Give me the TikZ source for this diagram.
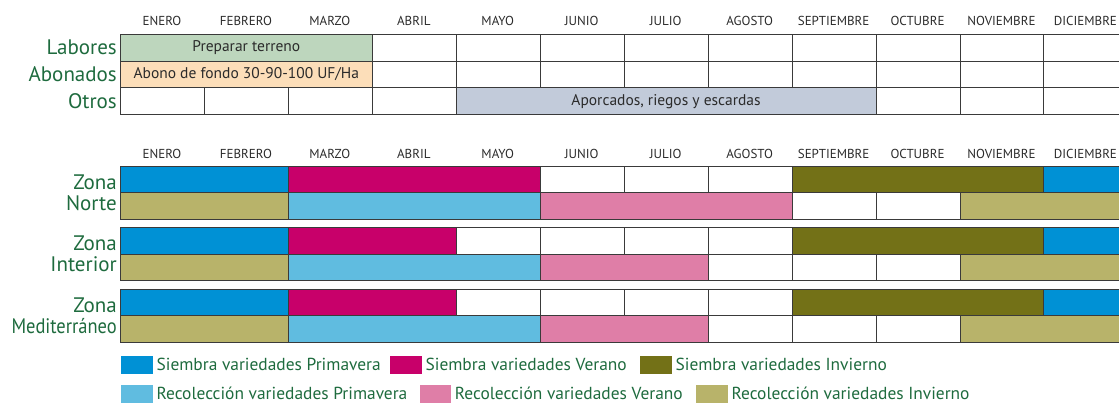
\documentclass[tikz,border=0pt]{standalone}
\usepackage{fontspec}
\setmainfont{PT Sans}
\newfontfamily\narrowfont{PT Sans}[FakeStretch=0.88]
\definecolor{txtgreen}{HTML}{1E6B3E}
\definecolor{mtxt}{HTML}{2B2B2B}
\definecolor{sprim}{HTML}{0091D5}
\definecolor{sver}{HTML}{C8006A}
\definecolor{sinv}{HTML}{737117}
\definecolor{rprim}{HTML}{60BCE0}
\definecolor{rver}{HTML}{DF7EA7}
\definecolor{rinv}{HTML}{B8B36A}
\definecolor{labc}{HTML}{BDD6BD}
\definecolor{aboc}{HTML}{FCDEB9}
\definecolor{otrc}{HTML}{C2CBDA}
\definecolor{gridc}{HTML}{3A3A3A}
\newcommand\cw{83.95}
\newcommand\gcell[7]{%
  \node[cellbox, fill=#6, minimum width={(#3-#2+1)*\cw*1pt}, minimum height=#5*1pt]
    (#1) at ({120+\cw*#2},#4) {#7};}
\tikzset{
  cellbox/.style={draw=gridc, line width=0.8pt, inner sep=0pt, anchor=north west,
    text=mtxt, font=\fontsize{15.5}{15.5}\selectfont},
  month/.style={text=mtxt, inner sep=0pt, font=\fontsize{13}{13}\selectfont},
  rowlab/.style={text=txtgreen, inner sep=0pt, anchor=east, align=right,
    font=\fontsize{21}{21}\selectfont},
  legsq/.style={inner sep=0pt, anchor=north west, minimum width=31.5pt, minimum height=18pt},
  legtxt/.style={text=txtgreen, inner sep=0pt, anchor=west, font=\fontsize{17.4}{17.4}\selectfont},
}
\begin{document}
\begin{tikzpicture}[x=1pt,y=-1pt]
\useasboundingbox (0,0) rectangle (1119,407);
\clip (0,0) rectangle (1119,407);
% month headers
\foreach \m [count=\i from 0] in {ENERO,FEBRERO,MARZO,ABRIL,MAYO,JUNIO,JULIO,AGOSTO,SEPTIEMBRE,OCTUBRE,NOVIEMBRE,DICIEMBRE}{
  \node[month] (ma\i) at ({120+\cw*(\i+0.5)},21) {\m};
  \node[month] (mb\i) at ({120+\cw*(\i+0.5)},154) {\m};
}
% top table
\gcell{lab}{0}{2}{34}{26.7}{labc}{Preparar terreno}
\foreach \c in {3,...,11}{\gcell{lab-\c}{\c}{\c}{34}{26.7}{white}{}}
\gcell{abo}{0}{2}{60.7}{26.7}{aboc}{Abono de fondo 30-90-100 UF/Ha}
\foreach \c in {3,...,11}{\gcell{abo-\c}{\c}{\c}{60.7}{26.7}{white}{}}
\foreach \c in {0,...,3}{\gcell{otr-\c}{\c}{\c}{87.4}{26.7}{white}{}}
\gcell{otr}{4}{8}{87.4}{26.7}{otrc}{Aporcados, riegos y escardas}
\foreach \c in {9,10,11}{\gcell{otr-\c}{\c}{\c}{87.4}{26.7}{white}{}}
\node[rowlab] (lLab) at (117,47.5) {Labores};
\node[rowlab] (lAbo) at (117,74.2) {Abonados};
\node[rowlab] (lOtr) at (117,100.9) {Otros};
% bottom table
\foreach \a/\b/\f in {0/1/sprim,2/4/sver,5/5/white,6/6/white,7/7/white,8/10/sinv,11/11/sprim}{
  \gcell{n1-\a}{\a}{\b}{165.7}{26.5}{\f}{}}
\foreach \a/\b/\f in {0/1/rinv,2/4/rprim,5/7/rver,8/8/white,9/9/white,10/11/rinv}{
  \gcell{n2-\a}{\a}{\b}{192.2}{26.5}{\f}{}}
\foreach \z/\t in {i/227.3,m/288.7}{
  \foreach \a/\b/\f in {0/1/sprim,2/3/sver,4/4/white,5/5/white,6/6/white,7/7/white,8/10/sinv,11/11/sprim}{
    \gcell{\z1-\a}{\a}{\b}{\t}{26.5}{\f}{}}
  \foreach \a/\b/\f in {0/1/rinv,2/4/rprim,5/6/rver,7/7/white,8/8/white,9/9/white,10/11/rinv}{
    \gcell{\z2-\a}{\a}{\b}{\t+26.5}{26.5}{\f}{}}
}
\node[rowlab] (zN) at (117,192.5) {Zona\\Norte};
\node[rowlab] (zI) at (117,254) {Zona\\Interior};
\node[rowlab] (zM) at (117,315.3) {Zona\\{\narrowfont Mediterráneo}};
% legend
\node[legsq, fill=sprim] (q1) at (121,355.7) {};
\node[legtxt] (t1) at ([xshift=3.5pt]q1.east) {Siembra variedades Primavera};
\node[legsq, fill=sver] (q2) at (390,355.7) {};
\node[legtxt] (t2) at ([xshift=3.5pt]q2.east) {Siembra variedades Verano};
\node[legsq, fill=sinv] (q3) at (640,355.7) {};
\node[legtxt] (t3) at ([xshift=3.5pt]q3.east) {Siembra variedades Invierno};
\node[legsq, fill=rprim] (q4) at (121,384.3) {};
\node[legtxt] (t4) at ([xshift=3.5pt]q4.east) {Recolección variedades Primavera};
\node[legsq, fill=rver] (q5) at (419.3,384.3) {};
\node[legtxt] (t5) at ([xshift=3.5pt]q5.east) {Recolección variedades Verano};
\node[legsq, fill=rinv] (q6) at (696,384.3) {};
\node[legtxt] (t6) at ([xshift=3.5pt]q6.east) {Recolección variedades Invierno};
\end{tikzpicture}
\end{document}
